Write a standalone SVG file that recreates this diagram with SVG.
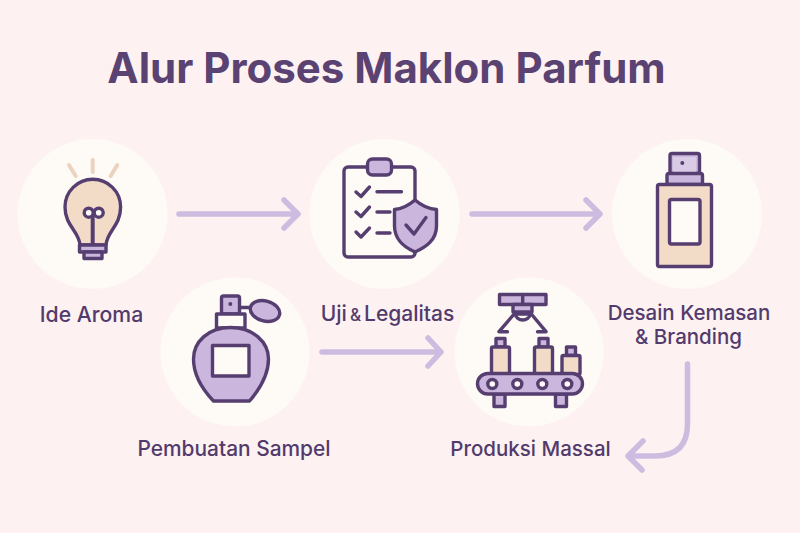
<svg xmlns="http://www.w3.org/2000/svg" width="800" height="533" viewBox="0 0 800 533">
<style>
.c{fill:#fefbf7}
.i{stroke:#563f70;stroke-width:3.400;stroke-linejoin:round;stroke-linecap:round;fill:none}
.t{font-family:Inter,"Liberation Sans",sans-serif;font-weight:500;font-size:20.500px;fill:#523b6c;text-anchor:middle}
.a{fill:none;stroke:#cdbcdf;stroke-width:5.500;stroke-linecap:round;stroke-linejoin:round}
</style>
<rect width="800" height="533" fill="#fdf1f1"/>
<text id="title" x="386.500" y="83" style="font-family:Inter,'Liberation Sans',sans-serif;font-weight:700;font-size:42px;fill:#5a4272;text-anchor:middle">Alur Proses Maklon Parfum</text>
<g id="connectors" class="a">
<path d="M179 214H298M284 200L298 214L284 228"/>
<path d="M472 214H600M586 200L600 214L586 228"/>
<path d="M322 352H441M428 338L441 352L428 366"/>
<path d="M687.500 364V424Q687.500 456 655 456H629M643 441L628 456L642 470"/>
</g>
<g id="node-ide">
<circle class="c" cx="92.500" cy="214" r="75"/>
<path d="M92.700 160V172M69 165L75.700 176M117.300 165L110.700 176" fill="none" stroke="#ecd3bf" stroke-width="4" stroke-linecap="round"/>
<path class="i" style="fill:#f2dcc8" d="M80 245C79 231 65 226 65 207A27.800 27.800 0 0 1 120.600 207C120.600 226 107 231 106 245Z"/>
<path class="i" d="M92.700 217V245" style="stroke-width:4"/>
<circle class="i" style="fill:#fefbf7" cx="88.700" cy="212.700" r="4.500"/>
<circle class="i" style="fill:#fefbf7" cx="98.700" cy="212.700" r="4.500"/>
<rect class="i" style="fill:#cbb7de" x="79.500" y="245" width="26.500" height="7"/>
<rect class="i" style="fill:#cbb7de" x="84" y="252" width="18" height="6.500"/>
<text class="t" x="91.500" y="322" font-size="21" style="font-size:21.200px">Ide Aroma</text>
</g>
<g id="node-uji">
<circle class="c" cx="384.500" cy="214" r="75"/>
<rect class="i" style="fill:#fefbf7" x="344" y="167" width="71" height="90" rx="4"/>
<rect class="i" style="fill:#cbb7de" x="367.500" y="159" width="24" height="16" rx="5"/>
<path class="i" d="M356 192L361 196.500L369.500 187M377 191.700H401.500M356 212L361 216.500L369.500 207M377 212H390M356 232L361 237L369.500 228M377 233H390"/>
<path class="i" style="fill:#cbb7de" d="M415 200C408 206 402 209 394.500 209.500V226C394.500 240 404 247 415 252C426 247 436.500 240 436.500 226V209.500C428 209 422 206 415 200Z"/>
<path class="i" d="M406 225L414 234L426 217.500"/>
<text class="t" x="387.500" y="321" style="font-size:21px"><tspan>Uji</tspan><tspan style="font-size:17px" dx="3">&amp;</tspan><tspan dx="3">Legalitas</tspan></text>
</g>
<g id="node-desain">
<circle class="c" cx="687" cy="214" r="75"/>
<rect class="i" style="fill:#cbb7de" x="670" y="153.500" width="29.500" height="20" rx="2"/>
<rect x="673" y="157" width="23" height="15" fill="#d9cbe6"/>
<circle cx="682.300" cy="163" r="2" fill="#563f70"/>
<rect class="i" style="fill:#cbb7de" x="667" y="173.500" width="35.500" height="11" rx="2"/>
<rect class="i" style="fill:#f2dcc8" x="657.500" y="184.500" width="54" height="82" rx="2"/>
<rect class="i" style="fill:#fefbf7" x="669.500" y="199.500" width="30.500" height="44.500" rx="2"/>
<text class="t" x="689" y="320">Desain Kemasan</text>
<text class="t" x="688.500" y="344">&amp; Branding</text>
</g>
<g id="node-sampel">
<circle class="c" cx="235" cy="352" r="74.500"/>
<path class="i" d="M239.500 307.500H252"/>
<ellipse class="i" style="fill:#cbb7de" cx="265" cy="311" rx="15" ry="10" transform="rotate(15 265 311)"/>
<rect class="i" style="fill:#cbb7de" x="221.500" y="296" width="18" height="18" rx="2"/>
<circle cx="230.300" cy="304" r="2" fill="#563f70"/>
<rect class="i" style="fill:#fefbf7" x="216.500" y="314" width="28.500" height="14"/>
<path class="i" style="fill:#cbb7de" d="M230.500 327.500C208 327.500 193.500 342 193.500 359C193.500 375 203 390 213.500 401H249.500C259 390 268.500 375 268.500 359C268.500 342 253 327.500 230.500 327.500Z"/>
<rect class="i" style="fill:#fefbf7" x="212.500" y="345.500" width="36.500" height="30.500"/>
<text class="t" x="234" y="456" style="font-size:20.900px">Pembuatan Sampel</text>
</g>
<g id="node-produksi">
<circle class="c" cx="529" cy="352" r="74.500"/>
<rect class="i" style="fill:#cbb7de" x="499.500" y="294.500" width="46.500" height="10"/>
<path class="i" d="M522.700 294.500V304.500"/>
<rect class="i" style="fill:#cbb7de" x="513" y="304.500" width="19" height="7.500"/>
<path class="i" style="fill:#fefbf7" d="M515 314A8 8 0 0 0 530.500 314Z"/>
<path class="i" d="M515 313L499 331.700H507.500M530.500 313L546 331.700H537.500"/>
<rect class="i" style="fill:#cbb7de" x="496" y="338.500" width="9" height="8.500"/>
<rect class="i" style="fill:#f2dcc8" x="491.500" y="347" width="18" height="27" rx="1.500"/>
<rect class="i" style="fill:#cbb7de" x="539" y="338.500" width="9" height="8.500"/>
<rect class="i" style="fill:#f2dcc8" x="534.500" y="347" width="18" height="27" rx="1.500"/>
<rect class="i" style="fill:#cbb7de" x="566.500" y="347" width="9" height="8.500"/>
<rect class="i" style="fill:#f2dcc8" x="562" y="355.500" width="18" height="19" rx="1.500"/>
<rect class="i" style="fill:#cbb7de" x="494" y="394" width="11" height="12.500"/>
<rect class="i" style="fill:#cbb7de" x="555.500" y="394" width="11" height="12.500"/>
<rect class="i" style="fill:#cbb7de" x="477.500" y="373.500" width="105" height="20.500" rx="10.250"/>
<g class="i" style="fill:#fefbf7"><circle cx="492.300" cy="384" r="4.500"/><circle cx="517.300" cy="384" r="4.500"/><circle cx="542.300" cy="384" r="4.500"/><circle cx="567.300" cy="384" r="4.500"/></g>
<text class="t" x="530.500" y="456">Produksi Massal</text>
</g>
</svg>
